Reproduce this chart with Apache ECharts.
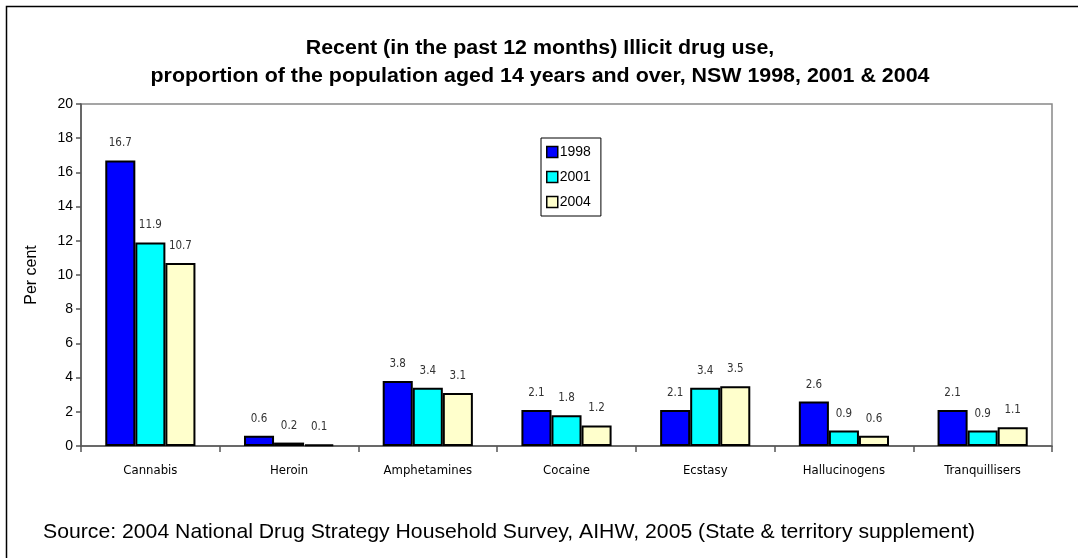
<!DOCTYPE html>
<html>
<head>
<meta charset="utf-8">
<script src="https://cdn.jsdelivr.net/npm/echarts@6/dist/echarts.min.js"></script>
<style>
  html, body { margin: 0; padding: 0; background: #fff; }
  #chart { width: 1078px; height: 558px; }
</style>
</head>
<body>
<div id="chart"></div>
<script>
// Drug categories and survey years
const categories = ['Cannabis', 'Heroin', 'Amphetamines', 'Cocaine', 'Ecstasy', 'Hallucinogens', 'Tranquillisers'];
const years = ['1998', '2001', '2004'];

// Recent use, per cent of population aged 14+
const values1998 = [16.7, 0.6, 3.8, 2.1, 2.1, 2.6, 2.1];
const values2001 = [11.9, 0.2, 3.4, 1.8, 3.4, 0.9, 0.9];
const values2004 = [10.7, 0.1, 3.1, 1.2, 3.5, 0.6, 1.1];

const yTicks = { min: 0, max: 20, interval: 2 };

const titleLines = [
  'Recent (in the past 12 months) Illicit drug use,',
  'proportion of the population aged 14 years and over, NSW 1998, 2001 & 2004'
];
const sourceNote = 'Source: 2004 National Drug Strategy Household Survey, AIHW, 2005 (State & territory supplement)';

const seriesColors = ['#0000FF', '#00FFFF', '#FFFFCC'];
const sans = '"Liberation Sans", Arial, sans-serif';
const narrow = '"Liberation Sans Narrow", "Arial Narrow", "DejaVu Sans Condensed", sans-serif';

const chart = echarts.init(document.getElementById('chart'));

function barSeries(name, data, color) {
  return {
    name: name,
    type: 'bar',
    data: data,
    barGap: '0%',
    barCategoryGap: '35%',
    itemStyle: { color: color, borderColor: '#000', borderWidth: 2 },
    label: {
      show: true,
      position: 'top',
      distance: 11,
      fontFamily: narrow,
      fontSize: 11.5,
      color: '#333'
    }
  };
}

function titleLine(text, y) {
  return {
    type: 'text',
    x: 540,
    y: y,
    scaleX: 1.07,
    originX: 0,
    style: {
      text: text,
      font: 'bold 20px ' + sans,
      fill: '#000',
      align: 'center',
      verticalAlign: 'middle'
    },
    silent: true
  };
}

chart.setOption({
  animation: false,
  backgroundColor: '#fff',
  legend: {
    orient: 'vertical',
    left: 541,
    top: 138,
    itemWidth: 11,
    itemHeight: 11,
    itemGap: 11,
    padding: [7, 10, 7, 5],
    borderColor: '#000',
    borderWidth: 1,
    icon: 'rect',
    textStyle: { fontFamily: sans, fontSize: 14, color: '#000', padding: [0, 0, 0, -3] },
    itemStyle: { borderColor: '#000', borderWidth: 1.5 },
    data: years
  },
  grid: {
    left: 81,
    right: 26,
    top: 104,
    bottom: 112,
    show: true,
    borderColor: '#888',
    borderWidth: 1.5,
    containLabel: false
  },
  xAxis: {
    type: 'category',
    data: categories,
    axisLine: { lineStyle: { color: '#555', width: 1.5 } },
    axisTick: { show: true, length: 6, lineStyle: { color: '#555', width: 1.5 } },
    axisLabel: { fontFamily: narrow, fontSize: 13, color: '#000', margin: 18 }
  },
  yAxis: {
    type: 'value',
    min: yTicks.min,
    max: yTicks.max,
    interval: yTicks.interval,
    name: 'Per cent',
    nameLocation: 'middle',
    nameGap: 41,
    nameTextStyle: { fontFamily: sans, fontSize: 16, color: '#000' },
    axisLine: { show: true, lineStyle: { color: '#555', width: 1.5 } },
    axisTick: { show: true, length: 5, lineStyle: { color: '#555', width: 1.5 } },
    axisLabel: { fontFamily: sans, fontSize: 14, color: '#000', margin: 8 },
    splitLine: { show: false }
  },
  series: [
    barSeries(years[0], values1998, seriesColors[0]),
    barSeries(years[1], values2001, seriesColors[1]),
    barSeries(years[2], values2004, seriesColors[2])
  ],
  graphic: [
    {
      type: 'rect',
      shape: { x: 6.5, y: 6.5, width: 1200, height: 700 },
      style: { fill: null, stroke: '#000', lineWidth: 1.5 },
      silent: true
    },
    titleLine(titleLines[0], 48),
    titleLine(titleLines[1], 76),
    {
      type: 'text',
      x: 43,
      y: 532,
      scaleX: 1.01,
      style: {
        text: sourceNote,
        font: '21px ' + sans,
        fill: '#000',
        verticalAlign: 'middle'
      },
      silent: true
    }
  ]
});
</script>
</body>
</html>
